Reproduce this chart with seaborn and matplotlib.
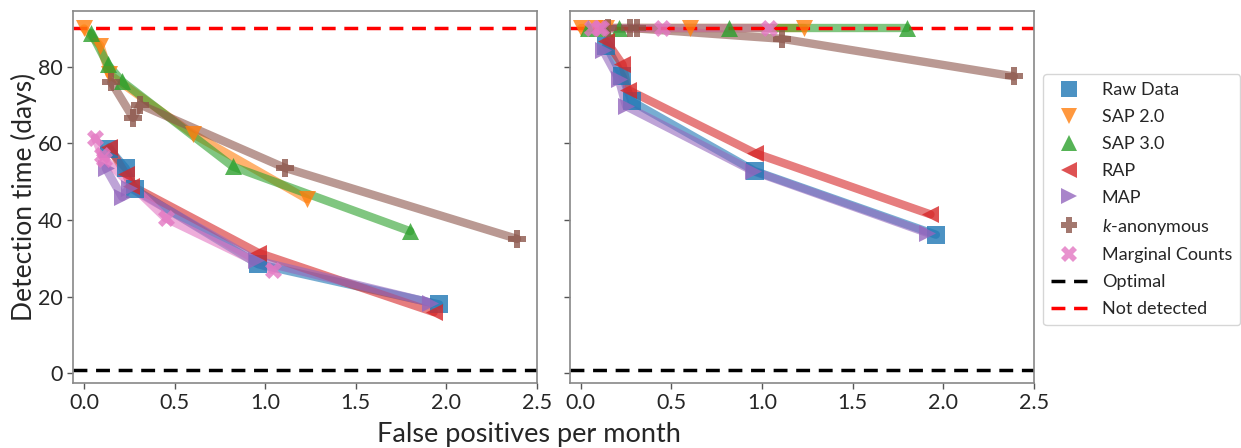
import matplotlib
matplotlib.use("Agg")
import matplotlib.pyplot as plt
import seaborn as sns
import pandas as pd
from matplotlib.lines import Line2D

sns.set_style("white")
plt.rcParams['font.family'] = ['Lato', 'DejaVu Sans']
plt.rcParams['mathtext.fontset'] = 'custom'
plt.rcParams['mathtext.it'] = 'Lato:italic'

methods = ["Raw Data", "SAP 2.0", "SAP 3.0", "RAP", "MAP", "$k$-anonymous", "Marginal Counts"]
markers = ["s", "v", "^", "<", ">", "P", "X"]
colors = sns.color_palette("tab10", 7)

# false positives per month (shared by both panels)
fp_raw = [0.14, 0.23, 0.28, 0.96, 1.96]
fp_sap2 = [0.0, 0.09, 0.14, 0.60, 1.23]
fp_sap3 = [0.04, 0.13, 0.21, 0.82, 1.80]
fp_rap = [0.14, 0.23, 0.26, 0.96, 1.93]
fp_map = [0.12, 0.21, 0.25, 0.95, 1.91]
fp_kanon = [0.15, 0.27, 0.31, 1.11, 2.39]
fp_marg = [0.06, 0.10, 0.11, 0.45, 1.04]

# left panel detection time (days)
left_raw = [58.5, 53.5, 48.0, 28.5, 18.0]
left_sap2 = [90.0, 85.5, 78.0, 62.5, 45.5]
left_sap3 = [88.8, 80.6, 76.2, 54.0, 37.1]
left_rap = [59.0, 52.0, 49.0, 31.5, 16.0]
left_map = [53.5, 46.0, 48.5, 29.5, 18.5]
left_kanon = [76.0, 66.7, 70.1, 53.6, 35.1]
left_marg = [61.5, 57.0, 56.0, 40.5, 27.0]

# right panel detection time (days)
right_raw = [85.5, 77.5, 71.0, 52.8, 36.2]
right_sap2 = [90.0, 90.0, 90.0, 90.0, 90.0]
right_sap3 = [90.0, 90.0, 90.0, 90.0, 90.0]
right_rap = [86.7, 80.6, 74.0, 57.5, 41.5]
right_map = [84.5, 76.7, 69.7, 52.8, 36.7]
right_kanon = [90.0, 90.0, 90.0, 87.3, 77.5]
right_marg = [90.0, 90.0, 90.0, 90.0, 90.0]

optimal = 1
not_detected = 90

fps = [fp_raw, fp_sap2, fp_sap3, fp_rap, fp_map, fp_kanon, fp_marg]
left_vals = [left_raw, left_sap2, left_sap3, left_rap, left_map, left_kanon, left_marg]
right_vals = [right_raw, right_sap2, right_sap3, right_rap, right_map, right_kanon, right_marg]

fig, axes = plt.subplots(1, 2, figsize=(12.41, 4.48), dpi=100, sharey=True)
fig.subplots_adjust(left=0.059, right=0.833, bottom=0.145, top=0.975, wspace=0.071)

for ax, panel in zip(axes, [left_vals, right_vals]):
    for i, (m, mk, c) in enumerate(zip(methods, markers, colors)):
        df = pd.DataFrame({"fp": fps[i], "days": panel[i]})
        sns.lineplot(data=df, x="fp", y="days", ax=ax, color=c, lw=6, alpha=0.6,
                     sort=False, legend=False)
        sns.scatterplot(data=df, x="fp", y="days", ax=ax, color=c, marker=mk, s=150,
                        alpha=0.8, linewidth=0, legend=False, zorder=3)
    ax.axhline(optimal, color="black", ls="--", lw=2.5, dashes=(4, 2.5))
    ax.axhline(not_detected, color="red", ls="--", lw=2.5, dashes=(4, 2.5))
    ax.set_xlim(-0.06, 2.5)
    ax.set_ylim(-2.5, 94.5)
    ax.set_xticks([0.0, 0.5, 1.0, 1.5, 2.0, 2.5])
    ax.set_yticks([0, 20, 40, 60, 80])
    ax.set_xlabel("")
    ax.set_ylabel("")
    ax.tick_params(axis="both", labelsize=15.5, length=4, width=1, color="#555555",
                   direction="out", bottom=True, left=True)
    for sp in ax.spines.values():
        sp.set_color("#888888")
        sp.set_linewidth(1.2)

axes[0].set_ylabel("Detection time (days)", fontsize=19, labelpad=1)
fig.text(0.426, 0.003, "False positives per month", ha="center", va="bottom", fontsize=19.5)

handles = [Line2D([], [], color=c, marker=mk, ls="none", markersize=11, alpha=0.8,
                  markeredgewidth=0) for mk, c in zip(markers, colors)]
handles += [Line2D([], [], color="black", ls="--", lw=2.5, dashes=(4, 2.5)),
            Line2D([], [], color="red", ls="--", lw=2.5, dashes=(4, 2.5))]
labels = methods + ["Optimal", "Not detected"]
fig.legend(handles, labels, loc="center left", bbox_to_anchor=(0.8405, 0.554),
           borderaxespad=0, fontsize=13, frameon=True, handlelength=2.0,
           labelspacing=0.6, borderpad=0.45, handletextpad=0.8)

fig.savefig("out.png", dpi=100)
